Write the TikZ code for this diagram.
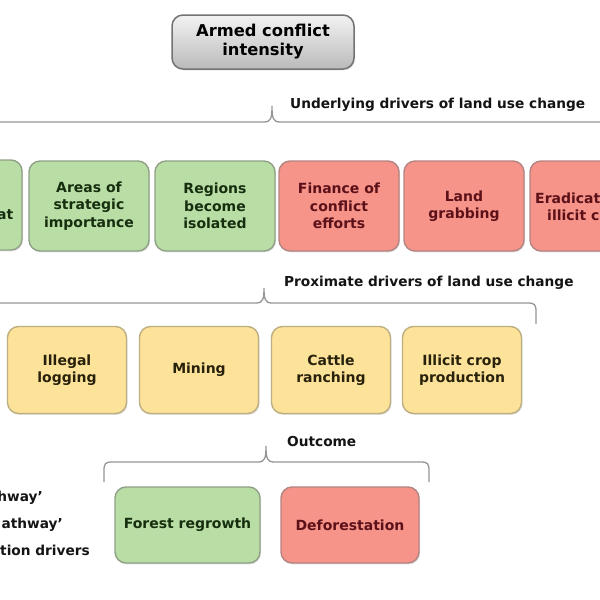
\documentclass[tikz,border=0pt]{standalone}
\usepackage{fontspec}
\setmainfont{DejaVu Sans}
\usetikzlibrary{shadows}
\definecolor{gfill}{RGB}{184,222,166}
\definecolor{gdraw}{RGB}{145,160,135}
\definecolor{gtext}{RGB}{22,46,14}
\definecolor{rfill}{RGB}{246,148,138}
\definecolor{rdraw}{RGB}{180,132,128}
\definecolor{rtext}{RGB}{92,16,24}
\definecolor{yfill}{RGB}{253,226,154}
\definecolor{ydraw}{RGB}{190,175,128}
\definecolor{ytext}{RGB}{40,34,12}
\definecolor{bracec}{RGB}{150,150,150}
\definecolor{labtext}{RGB}{20,20,20}
\newcommand\boxfont{\bfseries\fontsize{14}{17.5}\selectfont}
\newcommand\topfont{\bfseries\fontsize{16.3}{19}\selectfont}
\newcommand\labfont{\bfseries\fontsize{13.7}{16}\selectfont}
\begin{document}
\begin{tikzpicture}[x=1pt,y=-1pt,
  boxbase/.style={rounded corners=11pt, align=center, inner sep=0pt, line width=1.4pt,
    font=\boxfont, drop shadow={opacity=0.25, shadow xshift=1pt, shadow yshift=-1.3pt}},
  gbox/.style={boxbase, fill=gfill, draw=gdraw, text=gtext, minimum width=120pt, minimum height=90pt},
  rbox/.style={boxbase, fill=rfill, draw=rdraw, text=rtext, minimum width=120pt, minimum height=90pt},
  ybox/.style={boxbase, fill=yfill, draw=ydraw, text=ytext, minimum width=119pt, minimum height=87pt},
  graybox/.style={boxbase, top color=white!95!black, bottom color=black!27, draw=black!55,
    line width=1.5pt, text=black, font=\topfont, minimum width=182pt, minimum height=54pt},
  lab/.style={font=\labfont, text=labtext, inner sep=0pt},
  bracepath/.style={draw=bracec, line width=1.3pt}
]
\useasboundingbox (0,0) rectangle (600,600);
\clip (0,0) rectangle (600,600);
\fill[white] (0,0) rectangle (600,600);

% top node
\node[graybox] (ac) at (263,42) {Armed conflict\\intensity};

% underlying drivers
\node[lab, anchor=west] (ul) at (290,105) {Underlying drivers of land use change};
\draw[bracepath] (-10,122) -- (264,122) .. controls (271,122) and (272,118) .. (272,106)
  .. controls (272,118) and (273,122) .. (280,122) -- (610,122);

\node[gbox] (u1) at (-38,205) {};
\node[gbox] (u2) at (89,206) {Areas of\\strategic\\importance};
\node[gbox] (u3) at (215,206) {Regions\\become\\isolated};
\node[rbox] (u4) at (339,206) {Finance of\\conflict\\efforts};
\node[rbox] (u5) at (464,206) {Land\\grabbing};
\node[rbox] (u6) at (590,206) {};
\node[font=\boxfont, text=gtext, anchor=east, inner sep=0pt] (u1t) at (13.5,215) {at};
\node[font=\boxfont, text=rtext, anchor=west, inner sep=0pt] (u6a) at (535,198) {Eradicat};
\node[font=\boxfont, text=rtext, anchor=west, inner sep=0pt] (u6b) at (547,215) {illicit c};

% proximate drivers
\node[lab, anchor=west] (pl) at (284,283) {Proximate drivers of land use change};
\draw[bracepath] (-10,303) -- (256,303) .. controls (263,303) and (264,299) .. (264,288)
  .. controls (264,299) and (265,303) .. (272,303) -- (528,303)
  .. controls (535,303) and (536,305) .. (536,312) -- (536,324);

\node[ybox] (p1) at (67,370) {Illegal\\logging};
\node[ybox] (p2) at (199,370) {Mining};
\node[ybox] (p3) at (331,370) {Cattle\\ranching};
\node[ybox] (p4) at (462,370) {Illicit crop\\production};

% outcome
\node[lab, anchor=west] (ol) at (287,442) {Outcome};
\draw[bracepath] (104,482) -- (104,471) .. controls (104,464) and (105,462) .. (112,462) -- (258,462)
  .. controls (265,462) and (266,458) .. (266,446)
  .. controls (266,458) and (267,462) .. (274,462) -- (421,462)
  .. controls (428,462) and (429,464) .. (429,471) -- (429,482);

\node[gbox, minimum width=145pt, minimum height=76pt] (o1) at (187.5,525) {Forest regrowth};
\node[rbox, minimum width=138pt, minimum height=76pt] (o2) at (350,525) {Deforestation};

% legend fragments
\node[lab, anchor=east] (l1) at (43,498) {hway’};
\node[lab, anchor=east] (l2) at (63,525) {athway’};
\node[lab, anchor=east] (l3) at (90,550) {tion drivers};
\end{tikzpicture}
\end{document}
